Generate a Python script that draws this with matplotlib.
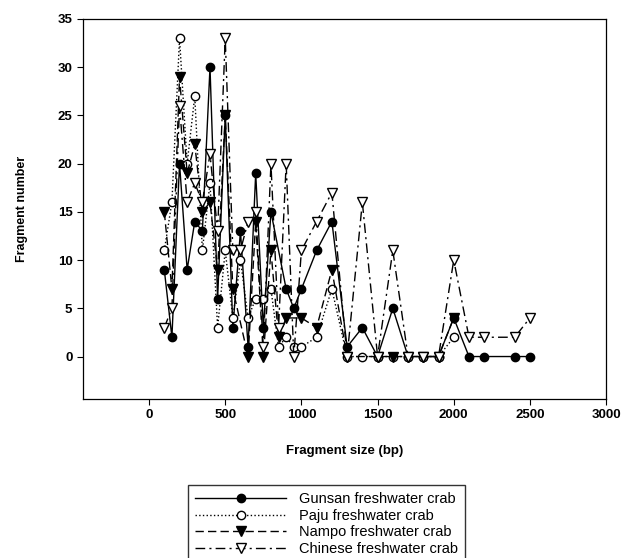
import matplotlib
matplotlib.use("Agg")
import matplotlib.pyplot as plt

plt.rcParams["font.family"] = ["Liberation Sans", "DejaVu Sans"]

# fragment sizes (bp) and counts per crab population
gunsan_x = [100, 150, 200, 250, 300, 350, 400, 450, 500, 550, 600, 650, 700, 750, 800,
            900, 950, 1000, 1100, 1200, 1300, 1400, 1500, 1600, 1700, 1800, 1900, 2000,
            2100, 2200, 2400, 2500]
gunsan_y = [9, 2, 20, 9, 14, 13, 30, 6, 25, 3, 13, 1, 19, 3, 15,
            7, 5, 7, 11, 14, 1, 3, 0, 5, 0, 0, 0, 4,
            0, 0, 0, 0]

paju_x = [100, 150, 200, 250, 300, 350, 400, 450, 500, 550, 600, 650, 700, 750, 800,
          850, 900, 950, 1000, 1100, 1200, 1300, 1400, 1500, 1600, 1700, 1800, 1900, 2000]
paju_y = [11, 16, 33, 20, 27, 11, 18, 3, 11, 4, 10, 4, 6, 6, 7,
          1, 2, 1, 1, 2, 7, 0, 0, 0, 0, 0, 0, 0, 2]

nampo_x = [100, 150, 200, 250, 300, 350, 400, 450, 500, 550, 650, 700, 750, 800,
           850, 900, 1000, 1100, 1200, 1300, 1500, 1600, 1700, 1800, 1900, 2000]
nampo_y = [15, 7, 29, 19, 22, 15, 16, 9, 25, 7, 0, 14, 0, 11,
           2, 4, 4, 3, 9, 0, 0, 0, 0, 0, 0, 4]

chinese_x = [100, 150, 200, 250, 300, 350, 400, 450, 500, 550, 600, 650, 700, 750, 800,
             850, 900, 950, 1000, 1100, 1200, 1300, 1400, 1500, 1600, 1700, 1800, 1900,
             2000, 2100, 2200, 2400, 2500]
chinese_y = [3, 5, 26, 16, 18, 16, 21, 13, 33, 11, 11, 14, 15, 1, 20,
             3, 20, 0, 11, 14, 17, 0, 16, 0, 11, 0, 0, 0,
             10, 2, 2, 2, 4]

fig = plt.figure(figsize=(6.32, 5.58), dpi=100)
ax = fig.add_axes([0.131, 0.285, 0.828, 0.681])

ms = 6
ax.plot(gunsan_x, gunsan_y, color="black", lw=1, ls="-", marker="o", ms=ms,
        mfc="black", mec="black", label="Gunsan freshwater crab")
ax.plot(paju_x, paju_y, color="black", lw=1, ls=":", marker="o", ms=ms,
        mfc="white", mec="black", label="Paju freshwater crab")
ax.plot(nampo_x, nampo_y, color="black", lw=1, ls=(0, (6, 3)), marker="v", ms=ms + 0.5,
        mfc="black", mec="black", label="Nampo freshwater crab")
ax.plot(chinese_x, chinese_y, color="black", lw=1, ls=(0, (7, 3, 1.5, 3)), marker="v",
        ms=ms + 0.5, mfc="white", mec="black", label="Chinese freshwater crab")

ax.set_xlim(-435, 3000)
ax.set_ylim(-4.4, 35)
ax.set_xticks(range(0, 3001, 500))
ax.set_yticks(range(0, 36, 5))
ax.tick_params(direction="out", length=4, width=0.8, labelsize=9.5)
for lab in ax.get_xticklabels() + ax.get_yticklabels():
    lab.set_fontweight("bold")
for s in ax.spines.values():
    s.set_linewidth(0.9)

ax.set_xlabel("Fragment size (bp)", fontsize=9.5, fontweight="bold", labelpad=17)
ax.set_ylabel("Fragment number", fontsize=9, fontweight="bold", labelpad=21)

fig.legend(loc="upper left", bbox_to_anchor=(0.2975, 0.131), fontsize=10.5,
           handlelength=6.2, numpoints=1, frameon=True, fancybox=False,
           edgecolor="black", borderpad=0.5, labelspacing=0.18, handletextpad=0.9,
           borderaxespad=0)

fig.savefig("out.png", dpi=100)
